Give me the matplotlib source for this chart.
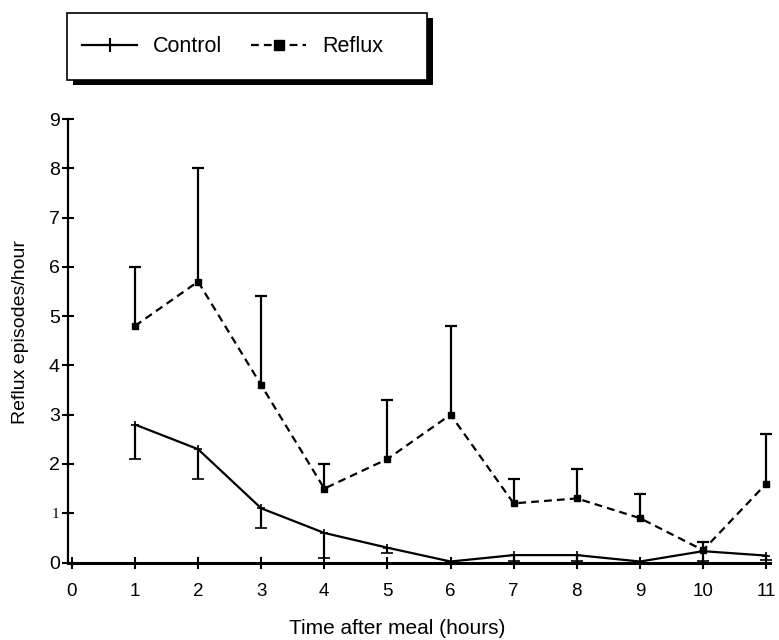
import matplotlib
matplotlib.use("Agg")
import matplotlib.pyplot as plt
from matplotlib.patches import Rectangle
from matplotlib.lines import Line2D

# ---- data ----
hours = [1, 2, 3, 4, 5, 6, 7, 8, 9, 10, 11]
control_mean = [2.8, 2.3, 1.1, 0.6, 0.3, 0.02, 0.15, 0.15, 0.02, 0.23, 0.14]
control_err_low = [0.7, 0.6, 0.4, 0.5, 0.1, 0.0, 0.12, 0.12, 0.0, 0.2, 0.09]
reflux_mean = [4.8, 5.7, 3.6, 1.5, 2.1, 3.0, 1.2, 1.3, 0.9, 0.25, 1.6]
reflux_err_high = [1.2, 2.3, 1.8, 0.5, 1.2, 1.8, 0.5, 0.6, 0.5, 0.17, 1.0]
xticks = list(range(0, 12))
yticks = list(range(0, 10))
series_names = ["Control", "Reflux"]
xlabel = "Time after meal (hours)"
ylabel = "Reflux episodes/hour"

plt.rcParams['font.family'] = ['Liberation Sans', 'DejaVu Sans']

W, H = 779, 640
fig = plt.figure(figsize=(W / 100, H / 100), dpi=100)
ax = fig.add_axes([68 / W, 1 - 562.5 / H, 702 / W, (562.5 - 119) / H])

# Control: solid line, lower error bars only
c = ax.errorbar(hours, control_mean, yerr=[control_err_low, [0] * len(hours)],
                color='black', lw=1.6, marker='+', ms=6, mew=1.2,
                elinewidth=1.6, capsize=4.3, capthick=1.6, clip_on=False, zorder=3)
c[1][1].set_visible(False)
for cl in c[1]:
    cl.set_clip_on(False)

# Reflux: dashed line, upper error bars only
r = ax.errorbar(hours, reflux_mean, yerr=[[0] * len(hours), reflux_err_high],
                color='black', lw=1.6, ls=(0, (3.5, 2.3)), marker='s', ms=4.5,
                elinewidth=1.6, capsize=4.3, capthick=1.6, clip_on=False, zorder=3)
r[1][0].set_visible(False)

ax.set_xlim(-0.06, 11.06)
ax.set_ylim(0, 9)
ax.set_xticks(xticks)
ax.set_yticks(yticks)
ax.set_xticklabels([str(t) for t in xticks], fontsize=13.5)
ax.set_yticklabels([str(t) for t in yticks], fontsize=14)
for lab in ax.get_yticklabels():
    if lab.get_text() == '1':
        lab.set_fontfamily('Liberation Serif')
        lab.set_fontsize(11)

for s in ['top', 'right']:
    ax.spines[s].set_visible(False)
ax.spines['left'].set_linewidth(1.6)
ax.spines['bottom'].set_linewidth(2.2)
ax.spines['bottom'].set_zorder(4)
ax.tick_params(axis='both', direction='inout', length=8, width=1.5, color='black')
ax.tick_params(axis='x', pad=11)
ax.tick_params(axis='y', pad=2)

ax.set_xlabel(xlabel, fontsize=15)
ax.xaxis.set_label_coords((397 - 68) / 702, (562.5 - 619) / 443.5)
ax.xaxis.label.set_va('top')
ax.set_ylabel(ylabel, fontsize=14)
ax.yaxis.set_label_coords((29 - 68) / 702, (562.5 - 332) / 443.5)

# Legend box with black drop shadow
bx0, bx1, by0, by1 = 67, 427, 13, 80
fig.patches.append(Rectangle((bx0 / W + 6 / W, 1 - (by1 + 5) / H), (bx1 - bx0) / W, (by1 - by0) / H,
                             transform=fig.transFigure, facecolor='black', edgecolor='black',
                             lw=0, zorder=1))
fig.patches.append(Rectangle((bx0 / W, 1 - by1 / H), (bx1 - bx0) / W, (by1 - by0) / H,
                             transform=fig.transFigure, facecolor='white', edgecolor='black',
                             lw=1.2, zorder=2))

handles = [Line2D([], [], color='black', lw=1.6, marker='+', ms=10, mew=1.5),
           Line2D([], [], color='black', lw=1.6, ls=(0, (3.5, 2.3)), marker='s', ms=6.5)]
leg = fig.legend(handles, series_names, loc='center left',
                 bbox_to_anchor=(82 / W, 1 - 47 / H), bbox_transform=fig.transFigure,
                 ncol=2, frameon=False, fontsize=15.5, borderpad=0, borderaxespad=0,
                 handlelength=2.56, handletextpad=0.74, columnspacing=1.35)
leg.set_zorder(5)

fig.savefig('out.png', dpi=100)
